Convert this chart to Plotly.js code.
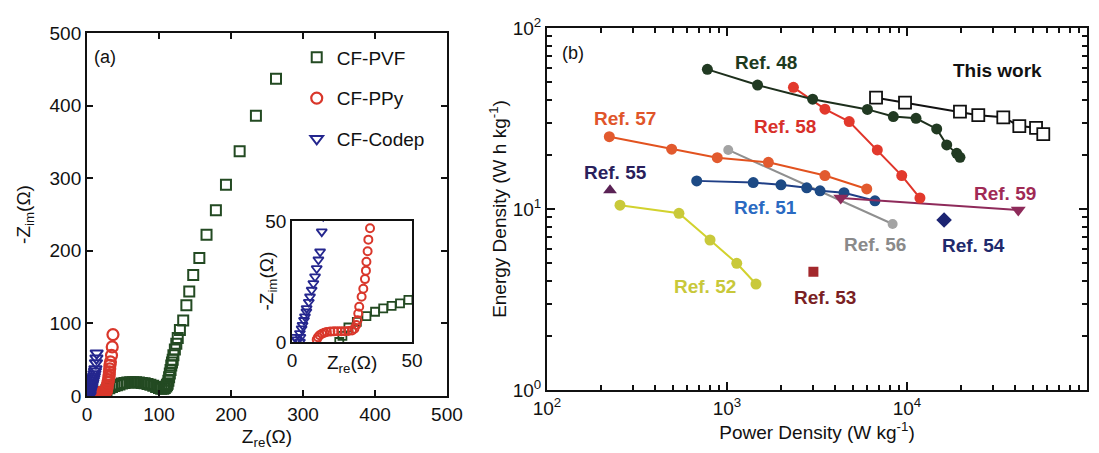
<!DOCTYPE html>
<html>
<head>
<meta charset="utf-8">
<script src="https://cdn.plot.ly/plotly-3.0.1.min.js"></script>
<style>html,body{margin:0;padding:0;background:#fff;}#chart{width:1099px;height:453px;}</style>
</head>
<body>
<div id="chart"></div>
<script>
// ---------- Panel (a): Nyquist plot data (Ω) ----------
const pvfX = [19.7, 21, 23.5, 27, 31, 34.6, 38, 41.5, 45, 48.5, 52, 56, 60, 64, 68, 72, 76, 80, 84, 88, 92, 96, 100, 103, 106, 108, 110, 111, 112, 113, 114, 115, 116, 117, 118, 119, 120, 122, 124, 126, 129, 133.6, 138, 142, 147.5, 156, 166, 179, 193, 212, 234.6, 262.5];
const pvfY = [0, 2.5, 6, 8.3, 10.7, 12.5, 13.9, 14.9, 16, 17.4, 18, 18.5, 19, 19, 19, 18.5, 18, 17.5, 16.5, 15.5, 14, 12.5, 11, 10, 10, 11, 13, 15, 17, 21, 26, 31, 36, 42, 46, 50, 56, 64, 72, 80, 91, 104, 125, 144, 166.5, 190, 222, 256, 291, 337, 386, 437];
const ppyX = [10.3, 10.8, 11.5, 12.5, 13.5, 14.5, 16, 17.5, 19, 20.5, 22, 23.5, 25, 26, 26.8, 27.3, 27.6, 28, 29, 29.7, 30.4, 30.8, 31, 31.5, 31.8, 32.5, 34, 35, 36];
const ppyY = [1, 2, 2.8, 3.4, 3.8, 4.1, 4.3, 4.4, 4.5, 4.5, 4.5, 4.6, 4.8, 5.5, 7, 9, 11.8, 14.6, 18.7, 22, 26, 29.5, 33.2, 37.5, 42.3, 47, 56, 67.6, 84.6];
const codepX = [1.2, 2, 3.3, 3.5, 3.3, 4, 4.4, 5, 5.4, 6, 6.1, 7, 7.5, 8.2, 8.9, 9.6, 10.3, 11, 11.7, 12.4, 13, 13.4];
const codepY = [2, 1, 0, 2, 3.6, 5.5, 7, 9, 10.5, 12.5, 13.9, 16.5, 18.7, 21.5, 24.2, 27, 30.4, 34, 37.3, 45.6, 52, 59];
const nyquistNames = ['CF-PVF', 'CF-PPy', 'CF-Codep'];

// ---------- Panel (b): Ragone plot data (P in W/kg, E in Wh/kg) ----------
const thisWorkP = [6730, 9750, 19690, 24890, 34270, 42070, 52100, 57150];
const thisWorkE = [41.2, 38.7, 34.5, 33.0, 32.1, 28.7, 28.1, 25.9];
const ref48P = [778, 1479, 2992, 6026, 8395, 11220, 14620, 16620, 18890, 19690];
const ref48E = [59.1, 48.4, 40.4, 35.5, 32.4, 31.7, 27.7, 22.6, 20.3, 19.3];
const ref58P = [2339, 3500, 4775, 6840, 9350, 11800];
const ref58E = [47.0, 35.6, 30.4, 21.2, 15.3, 11.5];
const ref57P = [222, 493, 883, 1698, 3500, 5976];
const ref57E = [25.1, 21.4, 19.2, 18.1, 15.3, 12.9];
const ref56P = [1016, 8318];
const ref56E = [21.2, 8.26];
const ref51P = [679, 1399, 1995, 2773, 3289, 4467, 6637];
const ref51E = [14.3, 14.0, 13.6, 13.1, 12.6, 12.3, 11.1];
const ref59P = [4285, 41500];
const ref59E = [11.5, 9.87];
const ref54P = [16070];
const ref54E = [8.69];
const ref53P = [3020];
const ref53E = [4.5];
const ref55P = [224];
const ref55E = [12.7];
const ref52P = [254.5, 541, 805, 1133, 1449];
const ref52E = [10.5, 9.47, 6.74, 5.01, 3.85];

const powerTickVals = [100, 1000, 10000, 100000];
const powerTickText = ['10<sup>2</sup>', '10<sup>3</sup>', '10<sup>4</sup>', '10<sup>5</sup>'];
const energyTickVals = [1, 10, 100];
const energyTickText = ['10<sup>0</sup>', '10<sup>1</sup>', '10<sup>2</sup>'];
const powerMinorTicks = [200,300,400,500,600,700,800,900,2000,3000,4000,5000,6000,7000,8000,9000,20000,30000,40000,50000,60000,70000,80000,90000];
const energyMinorTicks = [2,3,4,5,6,7,8,9,20,30,40,50,60,70,80,90];

// ---------- styling ----------
const FONT = 'Arial, "Liberation Sans", Helvetica, sans-serif';
const INK = '#111';
const cPVF = '#234a22', cPPy = '#d9372b', cCodep = '#24268e';

const traces = [];
traces.push({x: pvfX, y: pvfY, xaxis: 'x', yaxis: 'y', type: 'scatter', mode: 'markers', name: nyquistNames[0], legendgroup: 'a',
  marker: {symbol: 'square-open', size: 10, color: cPVF, line: {width: 2}}});
traces.push({x: ppyX, y: ppyY, xaxis: 'x', yaxis: 'y', type: 'scatter', mode: 'markers', name: nyquistNames[1], legendgroup: 'b',
  marker: {symbol: 'circle-open', size: 11, color: cPPy, line: {width: 2.2}}});
traces.push({x: codepX, y: codepY, xaxis: 'x', yaxis: 'y', type: 'scatter', mode: 'markers', name: nyquistNames[2], legendgroup: 'c',
  marker: {symbol: 'triangle-down-open', size: 11, color: cCodep, line: {width: 2}}});
traces.push({x: pvfX, y: pvfY, xaxis: 'x3', yaxis: 'y3', type: 'scatter', mode: 'markers', showlegend: false,
  marker: {symbol: 'square-open', size: 8, color: cPVF, line: {width: 1.8}}});
traces.push({x: ppyX, y: ppyY, xaxis: 'x3', yaxis: 'y3', type: 'scatter', mode: 'markers', showlegend: false,
  marker: {symbol: 'circle-open', size: 8, color: cPPy, line: {width: 2}}});
traces.push({x: codepX, y: codepY, xaxis: 'x3', yaxis: 'y3', type: 'scatter', mode: 'markers', showlegend: false,
  marker: {symbol: 'triangle-down-open', size: 9, color: cCodep, line: {width: 1.8}}});
// invisible carriers for the minor-tick overlay axes of panel (b)
traces.push({x: ref55P, y: ref55E, xaxis: 'x4', yaxis: 'y2', type: 'scatter', mode: 'markers', showlegend: false, hoverinfo: 'skip', marker: {opacity: 0, size: 1}});
traces.push({x: ref55P, y: ref55E, xaxis: 'x2', yaxis: 'y4', type: 'scatter', mode: 'markers', showlegend: false, hoverinfo: 'skip', marker: {opacity: 0, size: 1}});

function rag(x, y, name, lineColor, markerColor, symbol, size, mode, mline) {
  return {x: x, y: y, xaxis: 'x2', yaxis: 'y2', type: 'scatter', mode: mode || 'lines+markers', name: name, showlegend: false,
    line: {color: lineColor, width: 2},
    marker: {symbol: symbol, size: size, color: markerColor, line: mline || {width: 0}}};
}
traces.push(rag(ref56P, ref56E, 'Ref. 56', '#8f8f8f', '#a3a3a3', 'circle', 10));
traces.push(rag(ref51P, ref51E, 'Ref. 51', '#1f3f86', '#1d4a85', 'circle', 11));
traces.push(rag(ref57P, ref57E, 'Ref. 57', '#e2521f', '#e25a2e', 'circle', 11));
traces.push(rag(ref52P, ref52E, 'Ref. 52', '#d2d22e', '#c9c93a', 'circle', 11));
traces.push(rag(ref59P, ref59E, 'Ref. 59', '#8e2a5a', '#8e2a5a', 'triangle-down', 13));
traces.push(rag(ref58P, ref58E, 'Ref. 58', '#e0352a', '#e2392c', 'circle', 11));
traces.push(rag(ref48P, ref48E, 'Ref. 48', '#1d2f1c', '#213a22', 'circle', 11));
traces.push(rag(thisWorkP, thisWorkE, 'This work', INK, '#ffffff', 'square', 12, 'lines+markers', {width: 1.8, color: INK}));
traces.push(rag(ref54P, ref54E, 'Ref. 54', '#1c2472', '#1c2472', 'diamond', 12, 'markers'));
traces.push(rag(ref53P, ref53E, 'Ref. 53', '#a3282c', '#a3282c', 'square', 10, 'markers'));
traces.push(rag(ref55P, ref55E, 'Ref. 55', '#5a2255', '#5a2255', 'triangle-up', 12, 'markers'));

const ragLabels = [
  ['Ref. 48', 1648, 64.1, '#1d3a1e'],
  ['This work', 31620, 58.6, INK],
  ['Ref. 58', 2098, 28.5, '#d8302a'],
  ['Ref. 57', 273, 31.7, '#e0552a'],
  ['Ref. 55', 239, 15.9, '#2a1f5c'],
  ['Ref. 51', 1637, 10.2, '#2a6ac2'],
  ['Ref. 52', 755, 3.75, '#c8c83a'],
  ['Ref. 53', 3500, 3.24, '#7a1f24'],
  ['Ref. 56', 6637, 6.38, '#8a8a8a'],
  ['Ref. 54', 23550, 6.25, '#1f2a6c'],
  ['Ref. 59', 35000, 12.2, '#a02a55']
];

const annotations = ragLabels.map(l => ({
  xref: 'x2', yref: 'y2', x: Math.log10(l[1]), y: Math.log10(l[2]), text: '<b>' + l[0] + '</b>',
  xanchor: 'center', yanchor: 'middle',
  showarrow: false, font: {family: FONT, size: 19, color: l[3]}
}));
annotations.push({xref: 'x domain', yref: 'y domain', x: 0.015, y: 0.934, text: '(a)', showarrow: false, xanchor: 'left', yanchor: 'middle', font: {family: FONT, size: 18, color: INK}});
annotations.push({xref: 'x2 domain', yref: 'y2 domain', x: 0.025, y: 0.93, text: '(b)', showarrow: false, xanchor: 'left', yanchor: 'middle', font: {family: FONT, size: 18, color: INK}});
annotations.push({xref: 'x3 domain', yref: 'y3 domain', x: 0.5, y: -0.07, yanchor: 'top', xanchor: 'center', text: 'Z<sub>re</sub>(Ω)', showarrow: false, font: {family: FONT, size: 19, color: INK}});
annotations.push({xref: 'x3 domain', yref: 'y3 domain', x: -0.2, y: 0.5, xanchor: 'center', yanchor: 'middle', textangle: -90, text: '-Z<sub>im</sub>(Ω)', showarrow: false, font: {family: FONT, size: 19, color: INK}});

const axBase = {showline: true, linecolor: INK, linewidth: 2, mirror: 'ticks', ticks: 'inside', tickcolor: INK, tickwidth: 2,
  showgrid: false, zeroline: false, tickfont: {family: FONT, size: 19, color: INK}, automargin: false};
const minorAx = {showline: false, mirror: 'ticks', ticks: 'inside', ticklen: 5, tickwidth: 2, tickcolor: INK, showgrid: false,
  zeroline: false, tickmode: 'array', showticklabels: false, automargin: false};

const layout = {
  width: 1099, height: 453, margin: {l: 0, r: 0, t: 0, b: 0},
  paper_bgcolor: '#fff', plot_bgcolor: '#fff',
  font: {family: FONT, color: INK},
  showlegend: true,
  legend: {x: 0.27, y: 0.915, xanchor: 'left', yanchor: 'top', bgcolor: 'rgba(0,0,0,0)', font: {family: FONT, size: 19, color: INK},
    traceorder: 'grouped', tracegroupgap: 13, itemwidth: 30},
  xaxis: Object.assign({}, axBase, {domain: [0.0792, 0.4067], range: [0, 500], dtick: 100, ticklen: 6,
    title: {text: 'Z<sub>re</sub>(Ω)', font: {family: FONT, size: 19, color: INK}, standoff: 6}}),
  yaxis: Object.assign({}, axBase, {domain: [0.1258, 0.9272], range: [0, 500], dtick: 100, ticklen: 6,
    title: {text: '-Z<sub>im</sub>(Ω)', font: {family: FONT, size: 19, color: INK}, standoff: 14}}),
  xaxis2: Object.assign({}, axBase, {domain: [0.4977, 0.9891], type: 'log', range: [2, 5], anchor: 'y2', ticklen: 8,
    tickmode: 'array', tickvals: powerTickVals, ticktext: powerTickText,
    title: {text: 'Power Density (W kg<sup>-1</sup>)', font: {family: FONT, size: 19, color: INK}, standoff: 4}}),
  yaxis2: Object.assign({}, axBase, {domain: [0.1391, 0.9382], type: 'log', range: [0, 2], anchor: 'x2', ticklen: 8,
    tickmode: 'array', tickvals: energyTickVals, ticktext: energyTickText,
    title: {text: 'Energy Density (W h kg<sup>-1</sup>)', font: {family: FONT, size: 19, color: INK}, standoff: 1}}),
  xaxis4: Object.assign({}, minorAx, {domain: [0.4977, 0.9891], type: 'log', range: [2, 5], anchor: 'y2', overlaying: 'x2', side: 'bottom',
    tickvals: powerMinorTicks}),
  yaxis4: Object.assign({}, minorAx, {domain: [0.1391, 0.9382], type: 'log', range: [0, 2], anchor: 'x2', overlaying: 'y2', side: 'left',
    tickvals: energyMinorTicks}),
  xaxis3: Object.assign({}, axBase, {domain: [0.2657, 0.3749], range: [0, 50], anchor: 'y3', tickvals: [0, 50], tickmode: 'array', ticks: '', linewidth: 1.8}),
  yaxis3: Object.assign({}, axBase, {domain: [0.2450, 0.5121], range: [0, 50], anchor: 'x3', tickvals: [0, 50], tickmode: 'array', ticks: '', linewidth: 1.8}),
  annotations: annotations
};

Plotly.newPlot('chart', traces, layout, {displayModeBar: false, staticPlot: true});
</script>
</body>
</html>
